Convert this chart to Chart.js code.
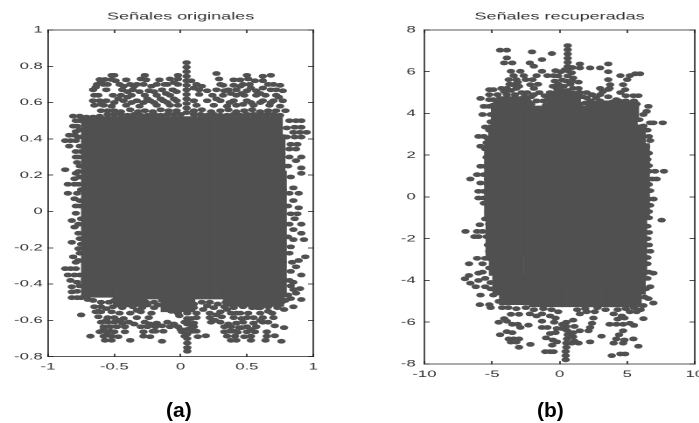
<!DOCTYPE html>
<html>
<head>
<meta charset="utf-8">
<script src="https://cdn.jsdelivr.net/npm/chart.js@4"></script>
<style>
html, body { margin: 0; background: #fff; overflow: hidden; }
canvas { position: absolute; top: 0; transform: scaleX(1.75); transform-origin: 0 0; }
#graph1 { left: 0; }
#graph2 { left: 350px; }
.cap { position: absolute; top: 398px; font: bold 21px "Liberation Sans"; color: #000; }
</style>
</head>
<body>
<canvas id="graph1"></canvas>
<canvas id="graph2"></canvas>
<div class="cap" style="left:166px">(a)</div>
<div class="cap" style="left:537px">(b)</div>
<script>
const titleA = "Señales originales";
const titleB = "Señales recuperadas";
const xTicksA = [-1, -0.5, 0, 0.5, 1];
const yTicksA = [-0.8, -0.6, -0.4, -0.2, 0, 0.2, 0.4, 0.6, 0.8, 1];
const xTicksB = [-10, -5, 0, 5, 10];
const yTicksB = [-8, -6, -4, -2, 0, 2, 4, 6, 8];

// solid middle of the cloud, too dense to read single samples
const massA = [
[-.62,.47],[-.38,.47],[-.14,.47],[.1,.47],[.34,.47],[.58,.47],[.64,.47],
[-.62,.37],[-.38,.37],[-.14,.37],[.1,.37],[.34,.37],[.58,.37],[.66,.37],
[-.62,.27],[-.38,.27],[-.14,.27],[.1,.27],[.34,.27],[.58,.27],[.66,.27],
[-.62,.17],[-.38,.17],[-.14,.17],[.1,.17],[.34,.17],[.58,.17],[.67,.17],
[-.62,.07],[-.38,.07],[-.14,.07],[.1,.07],[.34,.07],[.58,.07],[.67,.07],
[-.62,-.03],[-.38,-.03],[-.14,-.03],[.1,-.03],[.34,-.03],[.58,-.03],[.67,-.03],
[-.62,-.13],[-.38,-.13],[-.14,-.13],[.1,-.13],[.34,-.13],[.58,-.13],[.67,-.13],
[-.62,-.23],[-.38,-.23],[-.14,-.23],[.1,-.23],[.34,-.23],[.58,-.23],[.67,-.23],
[-.62,-.33],[-.38,-.33],[-.14,-.33],[.1,-.33],[.34,-.33],[.58,-.33],[.67,-.33],
[-.62,-.42],[-.38,-.43],[-.14,-.43],[.1,-.43],[.34,-.43],[.58,-.43],[.67,-.42],
[-.38,-.47],[-.02,-.5],[.45,-.47],[.65,-.47]
];
const massB = [
[-3.4,4.35],[.3,4.6],[3.2,4.15],[4.6,4.1],
[-3.8,3.9],[-1.4,3.9],[1,3.9],[3.4,3.9],[4.5,3.9],
[-4,3],[-3.8,3],[-1.4,3],[1,3],[3.4,3],[5.1,3],
[-4.3,2.1],[-3.8,2.1],[-1.4,2.1],[1,2.1],[3.4,2.1],[5.4,2.1],
[-4.3,1.2],[-3.8,1.2],[-1.4,1.2],[1,1.2],[3.4,1.2],[5.4,1.2],
[-4.3,.3],[-3.8,.3],[-1.4,.3],[1,.3],[3.4,.3],[5.4,.3],
[-4.3,-.6],[-3.8,-.6],[-1.4,-.6],[1,-.6],[3.4,-.6],[5.4,-.6],
[-4.2,-1.5],[-3.8,-1.5],[-1.4,-1.5],[1,-1.5],[3.4,-1.5],[5.2,-1.5],
[-4.2,-2.4],[-3.8,-2.4],[-1.4,-2.4],[1,-2.4],[3.4,-2.4],[5.2,-2.4],
[-3.95,-3.3],[-1.4,-3.3],[1,-3.3],[3.4,-3.3],[5.2,-3.3],
[-3.7,-4.2],[-1.4,-4.2],[1,-4.2],[3.4,-4.2],[5.1,-4.2],
[-3.2,-4.7],[-1,-4.8],[1.4,-4.8],[3.4,-4.8],[4.8,-4.8]
];

const samplesA = [
// spike
[.045,.82],[.045,.795],[.045,.77],[.045,.745],[.045,.72],[.045,.695],[.045,.67],[.045,.645],[.045,.62],[.045,.595],[.045,.57],[.045,.545],
[.045,-.5],[.045,-.53],[.05,-.56],[.05,-.59],[.05,-.62],[.05,-.65],[.05,-.675],[.05,-.7],[.05,-.725],[.05,-.75],[.05,-.77],
// top band
[-.52,.75],[-.5,.75],[-.27,.75],[-.02,.75],[.27,.76],[.5,.75],[.62,.745],[.68,.75],
[-.61,.727],[-.57,.727],[-.52,.727],[-.41,.725],[-.3,.73],[-.26,.725],[-.16,.725],[-.08,.73],[-.02,.73],[.29,.73],[.4,.725],[.45,.725],[.51,.73],[.56,.72],[.62,.72],
[-.63,.7],[-.58,.7],[-.46,.7],[-.38,.7],[-.33,.7],[-.18,.7],[-.1,.7],[-.02,.7],[.12,.7],[.32,.695],[.4,.695],[.47,.7],[.52,.7],[.7,.7],[.75,.695],
[-.66,.67],[-.56,.67],[-.44,.67],[-.36,.67],[-.24,.665],[-.14,.67],[-.06,.67],[.14,.67],[.2,.665],[.27,.67],[.33,.665],[.42,.67],[.5,.665],[.57,.665],[.68,.67],[.77,.665],
[-.65,.64],[-.51,.64],[-.45,.64],[-.37,.64],[-.27,.64],[-.18,.64],[-.08,.64],[.14,.645],[.24,.64],[.32,.64],[.42,.64],[.48,.64],[.57,.64],[.64,.64],[.72,.64],
[-.66,.61],[-.61,.61],[-.56,.61],[-.43,.61],[-.33,.61],[-.23,.61],[-.13,.61],[-.03,.61],[.2,.61],[.3,.61],[.4,.61],[.5,.61],[.62,.61],[.7,.61],[.77,.61],
[-.65,.585],[-.58,.585],[-.52,.58],[-.41,.585],[-.31,.58],[-.18,.585],[-.08,.585],[-.02,.585],[.25,.585],[.35,.58],[.42,.585],[.55,.585],[.67,.585],[.75,.58],
[-.6,.555],[-.55,.555],[-.5,.555],[-.45,.55],[-.38,.56],[-.32,.55],[-.27,.555],[-.21,.55],[-.15,.56],[-.09,.555],[-.03,.555],[.1,.555],[.16,.56],[.23,.55],[.3,.555],[.36,.56],[.42,.55],[.48,.555],[.54,.56],[.6,.55],[.66,.555],[.72,.555],[.79,.555],
// clumps between the rows of the top band
[-.64,.685],[-.6,.715],[-.55,.7],[-.49,.72],[-.43,.69],[-.4,.66],[-.35,.69],[-.31,.66],[-.28,.7],[-.22,.69],[-.2,.66],[-.12,.7],[-.11,.65],[-.05,.71],[-.03,.66],[.08,.72],[.1,.68],[.16,.69],[.3,.7],[.36,.67],[.38,.65],[.45,.69],[.46,.65],[.53,.68],[.6,.65],[.62,.68],[.66,.7],[.72,.67],[.74,.63],[.68,.6],[.6,.6],[.53,.6],[.47,.59],[.37,.6],[.27,.62],[-.62,.64],[-.6,.59],[-.5,.6],[-.47,.62],[-.4,.63],[-.37,.6],[-.28,.6],[-.25,.62],[-.2,.6],[-.15,.62],[-.1,.6],[-.05,.62],[.1,.61],[.12,.585],
// top rim
[-.81,.525],[-.76,.525],[-.71,.52],[-.66,.52],[-.61,.525],[-.55,.535],[-.5,.535],[-.45,.535],[-.4,.53],[-.35,.535],[-.3,.53],[-.25,.53],[-.2,.535],[-.15,.53],[-.1,.535],[-.05,.535],[0,.535],[.1,.535],[.15,.535],[.2,.53],[.25,.535],[.3,.53],[.35,.53],[.4,.535],[.45,.53],[.5,.535],[.55,.535],[.6,.53],[.65,.535],[.7,.535],[.75,.53],
// left edge
[-.79,.5],[-.76,.5],[-.81,.47],[-.78,.47],[-.79,.44],[-.84,.42],[-.8,.42],[-.87,.39],[-.83,.39],[-.79,.39],[-.84,.36],[-.79,.33],[-.79,.3],[-.77,.3],[-.78,.27],[-.87,.23],[-.79,.21],[-.8,.18],[-.85,.15],[-.8,.15],[-.77,.15],[-.85,.1],[-.78,.1],[-.8,.07],[-.79,.03],[-.76,.03],
[-.79,-.01],[-.82,-.05],[-.8,-.086],[-.77,-.12],[-.82,-.17],[-.77,-.205],[-.81,-.25],[-.79,-.28],[-.87,-.315],[-.83,-.315],[-.79,-.315],[-.85,-.35],[-.8,-.35],[-.83,-.38],[-.78,-.39],[-.82,-.415],[-.82,-.443],[-.78,-.44],[-.82,-.475],[-.78,-.475],[-.75,-.475],[-.75,-.57],
[-.76,.45],[-.77,.41],[-.76,.36],[-.75,.33],[-.76,.25],[-.77,.22],[-.76,.19],[-.75,.12],[-.76,.06],[-.75,-.04],[-.77,-.07],[-.76,-.15],[-.75,-.18],[-.76,-.23],[-.77,-.27],[-.76,-.35],[-.76,-.41],
// right edge
[.82,.5],[.87,.5],[.91,.5],[.74,.46],[.8,.46],[.86,.464],[.91,.464],[.85,.436],[.9,.436],[.95,.436],[.8,.41],[.86,.41],[.91,.41],[.83,.37],[.88,.37],[.82,.344],[.87,.344],[.91,.3],[.87,.28],[.91,.24],[.91,.21],[.83,.19],[.85,.13],[.89,.1],[.85,.06],[.89,.02],
[.83,-.013],[.88,-.013],[.86,-.04],[.91,-.07],[.85,-.1],[.91,-.12],[.93,-.155],[.85,-.155],[.83,-.195],[.94,-.25],[.89,-.27],[.87,-.305],[.83,-.33],[.91,-.35],[.85,-.39],[.9,-.425],[.85,-.43],[.87,-.45],[.83,-.48],[.91,-.485],[.85,-.525],[.78,-.54],
[.82,.3],[.81,.25],[.82,.1],[.81,.03],[.82,-.07],[.81,-.14],[.82,-.23],[.84,-.28],[.82,-.38],[.83,-.41],[.81,-.46],
// bottom band
[-.6,-.5],[-.54,-.5],[-.5,-.49],[-.44,-.5],[-.38,-.49],[-.32,-.5],[-.26,-.5],[-.2,-.5],[-.14,-.49],[-.08,-.5],[-.02,-.51],[.1,-.51],[.16,-.5],[.22,-.5],[.28,-.51],[.34,-.5],[.4,-.5],[.46,-.5],[.52,-.51],[.58,-.5],[.64,-.5],[.7,-.5],[.76,-.5],
[-.65,-.525],[-.6,-.525],[-.51,-.525],[-.44,-.53],[-.36,-.525],[-.29,-.53],[-.2,-.53],[-.12,-.525],[-.04,-.53],[0,-.54],[.1,-.53],[.17,-.54],[.25,-.53],[.33,-.525],[.4,-.53],[.47,-.525],[.54,-.53],[.6,-.53],[.66,-.525],[.73,-.53],
[-.64,-.553],[-.6,-.553],[-.52,-.553],[-.46,-.56],[-.38,-.56],[-.3,-.553],[-.22,-.56],[-.02,-.56],[.12,-.56],[.22,-.56],[.3,-.553],[.38,-.56],[.45,-.56],[.51,-.56],[.6,-.56],[.69,-.56],
[-.62,-.58],[-.55,-.585],[-.5,-.585],[-.43,-.59],[-.33,-.585],[-.24,-.585],[.08,-.59],[.12,-.585],[.22,-.585],[.31,-.58],[.4,-.585],[.46,-.59],[.55,-.585],[.62,-.585],[.7,-.585],
[-.6,-.61],[-.55,-.61],[-.5,-.61],[-.44,-.615],[-.39,-.61],[-.18,-.615],[-.1,-.61],[.03,-.61],[.1,-.615],[.23,-.61],[.3,-.61],[.42,-.615],[.47,-.61],[.55,-.615],[.62,-.61],[.66,-.61],
[-.58,-.635],[-.53,-.635],[-.48,-.635],[-.42,-.635],[-.3,-.635],[-.25,-.635],[-.19,-.635],[-.08,-.635],[-.02,-.635],[.1,-.635],[.33,-.635],[.38,-.635],[.44,-.64],[.5,-.635],[.57,-.635],[.71,-.63],
[-.61,-.663],[-.56,-.663],[-.5,-.663],[-.42,-.663],[-.28,-.663],[-.21,-.66],[-.13,-.66],[.01,-.663],[.12,-.66],[.33,-.663],[.4,-.66],[.5,-.663],[.56,-.663],[.65,-.663],[.78,-.64],
[-.68,-.687],[-.58,-.687],[-.52,-.687],[-.47,-.69],[-.28,-.687],[-.23,-.69],[.03,-.687],[.13,-.69],[.19,-.685],[.35,-.687],[.41,-.687],[.48,-.69],[.53,-.687],[.65,-.687],[.71,-.685],
[-.57,-.71],[-.52,-.71],[-.38,-.71],[-.14,-.715],[.38,-.71],[.42,-.71],[.53,-.71],[.64,-.71],[.76,-.715],
// clumps between the rows of the bottom band
[-.62,-.55],[-.56,-.535],[-.47,-.515],[-.41,-.515],[-.33,-.545],[-.25,-.515],[-.17,-.515],[-.07,-.55],[-.01,-.575],[-.46,-.6],[-.56,-.6],[-.53,-.66],[-.58,-.65],[-.55,-.68],[-.35,-.62],[-.27,-.61],[-.23,-.62],[-.14,-.63],[-.05,-.62],[0,-.65],[.08,-.64],[.09,-.66],[.36,-.62],[.37,-.66],[.43,-.665],[.46,-.64],[.53,-.65],[.6,-.6],[.58,-.53],[.26,-.6],[.27,-.57],[.42,-.56],[.66,-.55],[.5,-.585],[.35,-.54],[.2,-.52],[.05,-.61],[-.19,-.66],
// more of the middle's edge
[-.7,-.485],[-.66,-.49],[.79,-.49],[.72,-.51]
];

const samplesB = [
// spike
[.6,7.25],[.6,7.05],[.6,6.85],[.6,6.65],[.6,6.45],[.6,6.25],[.6,6.05],[.4,6.1],[.95,6.2],[.1,6],[.9,5.95],[-.1,5.8],[.6,5.8],[1,5.7],[-.35,5.55],[.2,5.6],[1.4,5.5],[-.5,5.3],[1.4,5.2],[-.7,5],[1.5,5],[-.9,4.8],[1.7,4.8],
[.5,-6],[.5,-6.2],[.55,-6.4],[.6,-6.6],[.55,-6.8],[.5,-7],[.5,-7.2],[.45,-7.4],[.45,-7.6],[.45,-7.8],[1,-5.9],[1.1,-6.2],[.2,-6.1],[.2,-6.3],[1,-6.5],[1,-6.7],[1.1,-6.9],[.9,-7],
// solid bump under the spike
[-.1,5.4],[.3,5.3],[.8,5.4],[1,5.2],[.1,5.1],[.6,5.1],[-.3,5],[.3,4.85],[.9,4.85],[1.2,4.7],[-.5,4.75],[0,4.7],[.5,4.65],[-.2,5.2],[.5,5.55],[.9,5.55],
// top scatter
[-4.4,7.03],[-3.9,7.03],[-2.04,6.95],[-.57,6.87],[-1.3,6.58],[-3.9,6.66],[-4.1,6.42],[-3.5,6.42],[-2.2,6.42],[-1.9,6.26],[1.5,6.37],[3.6,6.37],[1.5,6.18],[2.26,6.18],[3,6.18],[3.6,6],
[-3.6,6.02],[-2.9,6.02],[-1.3,6.02],[-.3,6.05],[-3.4,5.81],[-2.65,5.81],[-1.7,5.81],[-.9,5.81],[-.44,5.81],[4.5,5.81],[5.2,5.81],[5.6,5.9],[5.95,5.9],
[-3.76,5.62],[-3.2,5.62],[-2.5,5.62],[-2,5.62],[3.6,5.62],[5,5.62],[-3.5,5.38],[-2.16,5.38],[-1.6,5.4],[3.74,5.38],[4.7,5.38],
[-4.3,5.2],[-3.9,5.2],[-3.2,5.2],[-1.9,5.2],[3,5.2],[3.6,5.15],[-5.2,5.14],[-4.9,5.14],[-2.8,5],[-2.4,5],[-1.5,5],[4.85,5.14],[4.5,5],[2,5],[2.4,4.9],
[-5.85,4.72],[-5.2,4.9],[-4.6,4.9],[-3.9,4.9],[-3.3,4.9],[-2.6,4.8],[-2.1,4.8],[-1.1,4.85],[2,4.75],[3,4.9],[3.6,4.8],[5.46,4.85],[5.83,4.85],
[-5.2,4.66],[-4.9,4.66],[-4.4,4.66],[-3.8,4.66],[-3.2,4.6],[-2.7,4.6],[-2.3,4.55],[-1.2,4.6],[-.7,4.6],[2.3,4.6],[3,4.6],[4.2,4.66],[4.9,4.6],[5.5,4.6],
[-5.6,4.34],[-5.2,4.34],[-4.7,4.45],[-4.1,4.45],[-3.5,4.45],[-2.9,4.45],[-2.3,4.4],[-.6,4.45],[0,4.5],[1,4.5],[1.9,4.5],[3.5,4.45],[4.1,4.45],[4.7,4.45],[5.3,4.45],[5.7,4.45],
[6.57,4.34],[6.44,4.1],[-5.7,3.95],[-5.1,3.95],[6.2,3.95],[5.9,3.7],[6.7,3.55],[6.94,3.55],[7.63,3.55],[6.2,3.4],
// clumps on the upper rim
[-4.3,4.7],[-3.4,4.7],[-4.9,4.4],[-3.2,4.4],[-2.1,4.45],[-1,4.4],[-.8,4.7],[1.5,4.45],[2.5,4.4],[3.1,4.4],[3.9,4.55],[4.4,4.6],[5.1,4.4],[5.55,4.35],[2.7,4.75],[-3,5.3],[-3.7,5.4],[-3.6,5.1],[-3.1,5.5],[-4.1,5.05],[-4.6,4.6],[3.7,5.2],[3.2,5.05],[4.9,4.85],[-1.9,4.9],[-1.7,4.6],
// left edge
[-5.1,3.6],[-5.5,3.35],[-5.2,3.2],[-6,2.9],[-5.6,2.9],[-5.3,2.8],[-5.4,2.6],[-5.85,2.43],[-5.5,2.3],[-5.25,2.1],[-5.4,1.9],[-5.2,1.7],[-5.85,1.47],[-5.5,1.47],[-5.2,1.35],[-6.1,1.07],[-5.6,1.07],[-5.25,1.1],[-6.6,.86],[-5.3,.86],[-5.85,.67],[-5.3,.6],[-6,.27],[-5.6,.27],[-5.3,.2],[-6,-.05],[-5.6,-.05],[-5.6,-.3],[-5.3,-.3],
[-5.25,-.7],[-5.5,-1.05],[-5.9,-1.33],[-5.2,-1.3],[-6.96,-1.65],[-6.1,-1.65],[-5.7,-1.65],[-6.3,-1.9],[-6,-1.9],[-5.4,-1.9],[-5.3,-2.3],[-5.2,-2.6],[-6.1,-2.94],[-5.5,-2.94],[-5.2,-2.95],[-6.7,-3.2],[-5.7,-3.2],[-5.2,-3.4],[-6,-3.65],[-5.7,-3.6],[-6.7,-3.76],[-7,-3.92],[-5.5,-3.9],[-6,-4],[-6.6,-4.13],[-5.1,-4.1],[-6.2,-4.3],[-5.5,-4.3],[-5.1,-4.4],[-5.85,-4.7],[-4.9,-4.7],[-4.5,-4.6],[-5.9,-5.16],[-5.2,-5.16],[-5.1,-5.3],[-4.25,-5.3],[-4.5,-5],
// right edge
[6.5,3.2],[6.6,2.9],[6.7,2.7],[6.4,2.4],[6.6,2.1],[6.5,1.8],[6.6,1.5],[7.06,1.23],[7.72,1.23],[6.6,1.23],[6.45,.86],[6.85,.86],[7.18,.86],[6.6,.6],[6.7,.3],[6.95,-.1],[6.6,-.1],[6.7,-.4],[6.6,-.7],
[6.6,-1],[7.55,-1.11],[6.5,-1.4],[6.6,-1.7],[6.5,-2],[6.6,-2.3],[6.7,-2.6],[6.5,-2.9],[6.5,-3.2],[6.94,-3.65],[6.6,-3.6],[6.5,-3.9],[6.7,-4.3],[6.4,-4.4],[6.57,-4.87],[6.3,-4.8],[6.94,-5.08],[6.2,-5.2],[6,-5.4],[6.2,-5.83],
// bottom scatter
[-3.6,-5.62],[-3,-5.62],[-2.2,-5.6],[-1.7,-5.7],[-1.3,-5.6],[-.7,-5.7],[-.3,-5.8],[1.5,-5.6],[2,-5.5],[2.6,-5.5],[3.4,-5.4],[4,-5.6],[4.6,-5.7],[5.2,-5.5],[5.7,-5.5],
[-3.8,-5.3],[-3.2,-5.35],[-2.5,-5.3],[-1.9,-5.4],[-1.2,-5.35],[-.6,-5.4],[-.1,-5.5],[1.3,-5.4],[1.9,-5.35],[2.8,-5.3],[4.3,-5.4],[4.9,-5.35],[5.5,-5.3],
[-4.1,-5.83],[-4.5,-6],[-3.9,-5.95],[-3.5,-6.1],[-3.1,-6.1],[-2.3,-6.14],[-1.3,-5.95],[-.4,-6],[2.5,-5.8],[3.7,-6.1],[4.2,-6.1],[4.7,-6.1],[5.2,-6.05],[5.5,-6.15],[4.3,-5.85],[4.8,-5.8],
[-2.9,-6.25],[-1.3,-6.25],[-.9,-6.25],[2.26,-6.25],[2.4,-6.05],[-.2,-6.3],[1.5,-6.41],[2.14,-6.41],[4.7,-6.41],[-3.9,-6.45],[-3.5,-6.5],[-4.4,-6.6],[-.7,-6.54],[-.3,-6.5],[3.1,-6.67],[4.4,-6.6],
[-3.76,-6.8],[-3.4,-6.8],[-3,-6.8],[-1,-6.75],[-.5,-6.85],[1.4,-7],[4.2,-6.8],[4.8,-6.85],[5.46,-6.8],[-3.6,-6.95],[-3.2,-6.95],[-.2,-6.94],[2.26,-6.94],[4,-7],[4.7,-7],[-2.16,-7.06],[-.55,-7.1],[-3,-7.2],[5.83,-7.15],
[-1.06,-7.41],[-.7,-7.41],[-.44,-7.41],[4.5,-7.52],[4.85,-7.52],[3.86,-7.6]
];

function toPoints(list) {
    return list.map(p => ({x: p[0], y: p[1]}));
}

function setTicks(values) {
    return (scale) => { scale.ticks = values.map(v => ({value: v})); };
}

function plot(id, title, xTicks, yTicks, mass, samples, box) {
    const inkFont = {family: "'Liberation Sans'", size: 9.5};
    const line = {color: "#222", width: 0.8};
    const hidden = (pos, values, min, max) => ({
        type: "linear", position: pos, min: min, max: max,
        afterBuildTicks: setTicks(values),
        afterFit: (s) => { if (pos == "top") s.height = 0; else s.width = 0; },
        border: line,
        ticks: {display: false},
        grid: {drawOnChartArea: false, tickLength: -3, tickWidth: 0.8, tickColor: "#222"}
    });
    const canvas = document.getElementById(id);
    // wider than the window on purpose, the last x label runs off the page like in the original
    canvas.width = box.right + 30;
    canvas.height = 423;
    return new Chart(canvas.getContext("2d"), {
        type: "scatter",
        data: {datasets: [
            {data: toPoints(mass), pointStyle: "rect", pointRadius: 14, borderWidth: 0, backgroundColor: "#505050"},
            {data: toPoints(samples), pointStyle: "circle", pointRadius: 2.4, borderWidth: 0, backgroundColor: "#505050"}
        ]},
        options: {
            responsive: false,
            animation: false,
            devicePixelRatio: 2,
            layout: {padding: {right: 30, bottom: 0}},
            plugins: {
                legend: {display: false},
                tooltip: {enabled: false},
                title: {display: true, text: title, color: "#333", fullSize: false,
                    font: {family: "'Liberation Sans'", size: 10.3, weight: "normal"},
                    padding: {top: 10.5, bottom: 7.1}}
            },
            scales: {
                x: {type: "linear", position: "bottom", min: xTicks[0], max: xTicks[xTicks.length - 1],
                    afterBuildTicks: setTicks(xTicks),
                    afterFit: (s) => { s.height = 423 - box.bottom; },
                    border: line,
                    ticks: {color: "#333", font: inkFont, padding: 7.5, autoSkip: false, maxRotation: 0, callback: v => String(v)},
                    grid: {drawOnChartArea: false, tickLength: -3, tickWidth: 0.8, tickColor: "#222"}},
                y: {type: "linear", position: "left", min: yTicks[0], max: yTicks[yTicks.length - 1],
                    afterBuildTicks: setTicks(yTicks),
                    afterFit: (s) => { s.width = box.left; },
                    border: line,
                    ticks: {color: "#333", font: inkFont, padding: box.gap, autoSkip: false, callback: v => String(v)},
                    grid: {drawOnChartArea: false, tickLength: -3, tickWidth: 0.8, tickColor: "#222"}},
                x2: hidden("top", xTicks, xTicks[0], xTicks[xTicks.length - 1]),
                y2: hidden("right", yTicks, yTicks[0], yTicks[yTicks.length - 1])
            }
        }
    });
}

plot("graph1", titleA, xTicksA, yTicksA, massA, samplesA, {left: 27.4, right: 179.2, bottom: 356.7, gap: 6});
plot("graph2", titleB, xTicksB, yTicksB, massB, samplesB, {left: 42.5, right: 197.3, bottom: 364, gap: 8});
</script>
</body>
</html>
